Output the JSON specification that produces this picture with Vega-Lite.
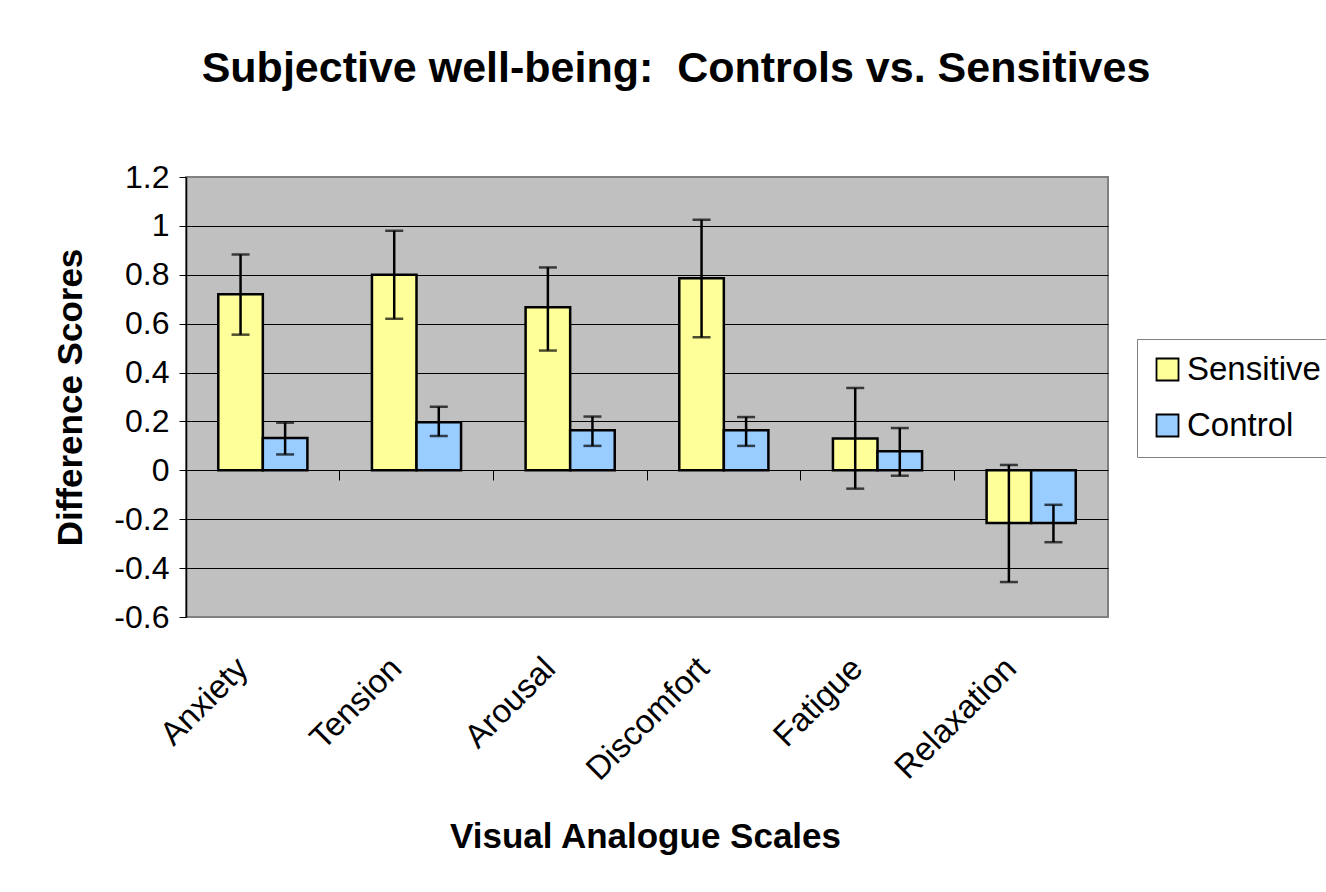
{
  "$schema": "https://vega.github.io/schema/vega-lite/v6.json",
  "autosize": {"type": "none"},
  "width": 922,
  "height": 440,
  "padding": {"left": 186, "top": 177, "right": 218, "bottom": 275},
  "background": "white",
  "title": {
    "text": "Subjective well-being:\u00a0 Controls vs. Sensitives",
    "font": "Liberation Sans",
    "fontSize": 43,
    "fontWeight": "bold",
    "color": "black",
    "anchor": "middle",
    "baseline": "alphabetic",
    "offset": 36,
    "dx": 29
  },
  "data": {
    "values": [
      {"cat": "Anxiety", "group": "Sensitive", "value": 0.72, "lo": 0.555, "hi": 0.883},
      {"cat": "Anxiety", "group": "Control", "value": 0.132, "lo": 0.065, "hi": 0.195},
      {"cat": "Tension", "group": "Sensitive", "value": 0.8, "lo": 0.62, "hi": 0.98},
      {"cat": "Tension", "group": "Control", "value": 0.197, "lo": 0.14, "hi": 0.26},
      {"cat": "Arousal", "group": "Sensitive", "value": 0.667, "lo": 0.49, "hi": 0.83},
      {"cat": "Arousal", "group": "Control", "value": 0.164, "lo": 0.1, "hi": 0.22},
      {"cat": "Discomfort", "group": "Sensitive", "value": 0.786, "lo": 0.544, "hi": 1.025},
      {"cat": "Discomfort", "group": "Control", "value": 0.164, "lo": 0.1, "hi": 0.218},
      {"cat": "Fatigue", "group": "Sensitive", "value": 0.13, "lo": -0.075, "hi": 0.337},
      {"cat": "Fatigue", "group": "Control", "value": 0.078, "lo": -0.022, "hi": 0.173},
      {"cat": "Relaxation", "group": "Sensitive", "value": -0.215, "lo": -0.457, "hi": 0.022},
      {"cat": "Relaxation", "group": "Control", "value": -0.215, "lo": -0.294, "hi": -0.141}
    ]
  },
  "layer": [
    {
      "mark": {"type": "bar", "stroke": "black", "strokeWidth": 2.5},
      "encoding": {
        "x": {
          "field": "cat", "type": "nominal", "sort": null,
          "scale": {"paddingInner": 0.42, "paddingOuter": 0.21},
          "axis": {
            "title": "Visual Analogue Scales",
            "titleFontSize": 35, "titleFontWeight": "bold",
            "titleBaseline": "alphabetic", "titleX": 459, "titleY": 230,
            "labelAngle": -45, "labelFontSize": 33, "labelPadding": 46,
            "labelAlign": "right", "labelBaseline": "middle", "labelOffset": -20,
            "ticks": false, "domain": false
          }
        },
        "xOffset": {"field": "group", "type": "nominal", "scale": {"domain": ["Sensitive", "Control"], "padding": 0}},
        "y": {
          "field": "value", "type": "quantitative",
          "scale": {"domain": [-0.6, 1.2], "nice": false, "zero": false},
          "axis": {
            "title": "Difference Scores",
            "titleFontSize": 35, "titleFontWeight": "bold",
            "titleBaseline": "alphabetic", "titleAngle": -90, "titleX": -105, "titleY": 220, "titleAlign": "center",
            "values": [-0.6, -0.4, -0.2, 0, 0.2, 0.4, 0.6, 0.8, 1, 1.2],
            "labelExpr": "'' + datum.value",
            "labelFontSize": 32, "labelPadding": 10, "tickSize": 7, "tickColor": "black",
            "domainColor": "black", "domainWidth": 1.5,
            "grid": true,
            "gridColor": {"condition": {"test": "datum.value == 1.2 || datum.value == -0.6", "value": "#808080"}, "value": "black"},
            "gridWidth": 1.2
          }
        },
        "color": {
          "field": "group", "type": "nominal",
          "scale": {"domain": ["Sensitive", "Control"], "range": ["#FFFF99", "#99CCFF"]},
          "legend": {
            "title": null, "orient": "none", "legendX": 951, "legendY": 162,
            "strokeColor": "#808080", "fillColor": "white", "padding": 14,
            "symbolType": "square", "symbolSize": 484, "symbolStrokeColor": "black", "symbolStrokeWidth": 1.8,
            "labelFontSize": 33, "labelOffset": 3, "rowPadding": 22, "labelFont": "Liberation Sans", "labelColor": "black"
          }
        }
      }
    },
    {
      "mark": {"type": "rule", "color": "black", "strokeWidth": 2.5},
      "encoding": {
        "x": {
          "field": "cat", "type": "nominal", "sort": null,
          "axis": {
            "orient": "top",
            "title": null, "labels": false, "domain": false, "ticks": true, "tickSize": 10,
            "tickColor": "black", "tickWidth": 1, "bandPosition": -0.362, "offset": -303, "grid": false
          }
        },
        "xOffset": {"field": "group", "type": "nominal"},
        "y": {"field": "lo", "type": "quantitative"},
        "y2": {"field": "hi"}
      }
    },
    {
      "mark": {"type": "tick", "color": "black", "thickness": 2.5, "size": 18},
      "encoding": {
        "x": {"field": "cat", "type": "nominal", "sort": null, "axis": null},
        "xOffset": {"field": "group", "type": "nominal"},
        "y": {"field": "hi", "type": "quantitative"}
      }
    },
    {
      "mark": {"type": "tick", "color": "black", "thickness": 2.5, "size": 18},
      "encoding": {
        "x": {"field": "cat", "type": "nominal", "sort": null, "axis": null},
        "xOffset": {"field": "group", "type": "nominal"},
        "y": {"field": "lo", "type": "quantitative"}
      }
    }
  ],
  "resolve": {"axis": {"x": "independent"}},
  "config": {
    "font": "Liberation Sans",
    "view": {"fill": "#C0C0C0", "stroke": "#808080", "strokeWidth": 2},
    "axis": {"labelFont": "Liberation Sans", "titleFont": "Liberation Sans", "labelColor": "black", "titleColor": "black"},
    "legend": {"labelFont": "Liberation Sans"}
  }
}
